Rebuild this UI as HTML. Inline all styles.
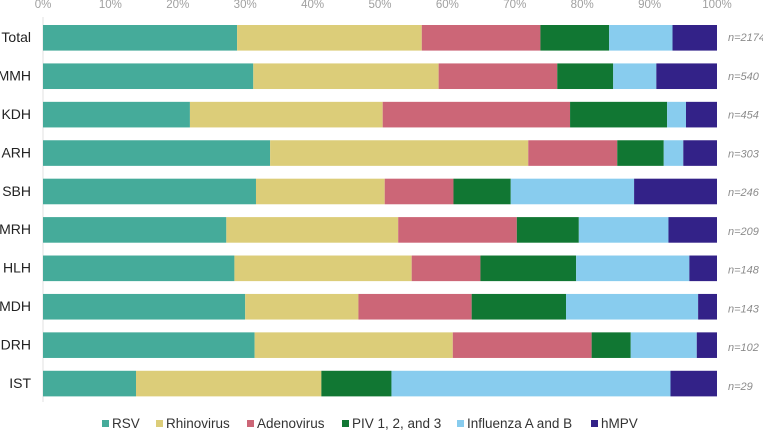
<!DOCTYPE html>
<html>
<head>
<meta charset="utf-8">
<title>Respiratory virus share by site</title>
<style>
html,body{margin:0;padding:0;background:#fff;width:763px;height:430px;overflow:hidden}
svg{display:block;font-family:"Liberation Sans",sans-serif}
</style>
</head>
<body>
<svg id="chart" width="763" height="430" viewBox="0 0 763 430" xmlns="http://www.w3.org/2000/svg"></svg>
<script>
const categories = ['Total','MMH','KDH','ARH','SBH','MRH','HLH','MDH','DRH','IST'];
const sampleLabels = ['n=2174','n=540','n=454','n=303','n=246','n=209','n=148','n=143','n=102','n=29'];
const tickValues = [0,10,20,30,40,50,60,70,80,90,100];
const seriesNames = ['RSV','Rhinovirus','Adenovirus','PIV 1, 2, and 3','Influenza A and B','hMPV'];
const rsv = [28.8,31.2,21.8,33.7,31.6,27.2,28.4,30.0,31.4,13.8];
const rhinovirus = [27.4,27.5,28.6,38.3,19.1,25.5,26.3,16.8,29.4,27.5];
const adenovirus = [17.6,17.6,27.8,13.2,10.2,17.6,10.2,16.8,20.6,0];
const piv = [10.2,8.3,14.4,6.9,8.5,9.2,14.2,14.0,5.8,10.4];
const influenza = [9.4,6.4,2.8,2.9,18.3,13.3,16.8,19.6,9.8,41.4];
const hmpv = [6.6,9.0,4.6,5.0,12.3,7.2,4.1,2.8,3.0,6.9];

const seriesValues = [rsv,rhinovirus,adenovirus,piv,influenza,hmpv];
const seriesColors = ['#45ab9a','#dccd79','#cc6677','#117733','#88ccee','#332288'];
const legendSwatchX = [102,156,247,342,457,591];
const NS = 'http://www.w3.org/2000/svg';
const svg = document.getElementById('chart');
function xScale(v){return 43 + v * 6.74;}
function yScale(i){return 25 + i * 38.42;}
const barHeight = 25.6;
function add(tag, attrs, text){
  const el = document.createElementNS(NS, tag);
  for (const k in attrs) el.setAttribute(k, attrs[k]);
  if (text !== undefined) el.textContent = text;
  svg.appendChild(el);
  return el;
}

const axisLine = add('line', {x1:43, x2:43, y1:17, y2:402, stroke:'#e2e2e2', 'stroke-width':1});



tickValues.forEach(function(t){
  const tick = add('text', {x:xScale(t), y:8, 'text-anchor':'middle', 'font-size':11.5, fill:'#a0a0a0'}, t + '%');
  
  
});

categories.forEach(function(cat, i){
  const label = add('text', {x:31, y:yScale(i) + 17.1, 'text-anchor':'end', 'font-size':14, fill:'#222'}, cat);
  
  

  let cum = 0;
  seriesValues.forEach(function(vals, s){
    const v = vals[i];
    if (v > 0) {
      const bar = add('rect', {x:xScale(cum), y:yScale(i), width:xScale(cum + v) - xScale(cum), height:barHeight, fill:seriesColors[s]});
      
      
    }
    cum += v;
  });

  const n = add('text', {x:728, y:41 + i * 38.78, 'font-size':11, 'font-style':'italic', fill:'#8c8c8c'}, sampleLabels[i]);
  
  
});

seriesNames.forEach(function(name, s){
  const swatch = add('rect', {x:legendSwatchX[s], y:420, width:7, height:7, fill:seriesColors[s]});
  
  
  const text = add('text', {x:legendSwatchX[s] + 10, y:428, 'font-size':13.5, fill:'#333'}, name);
  
  
});
</script>
</body>
</html>
